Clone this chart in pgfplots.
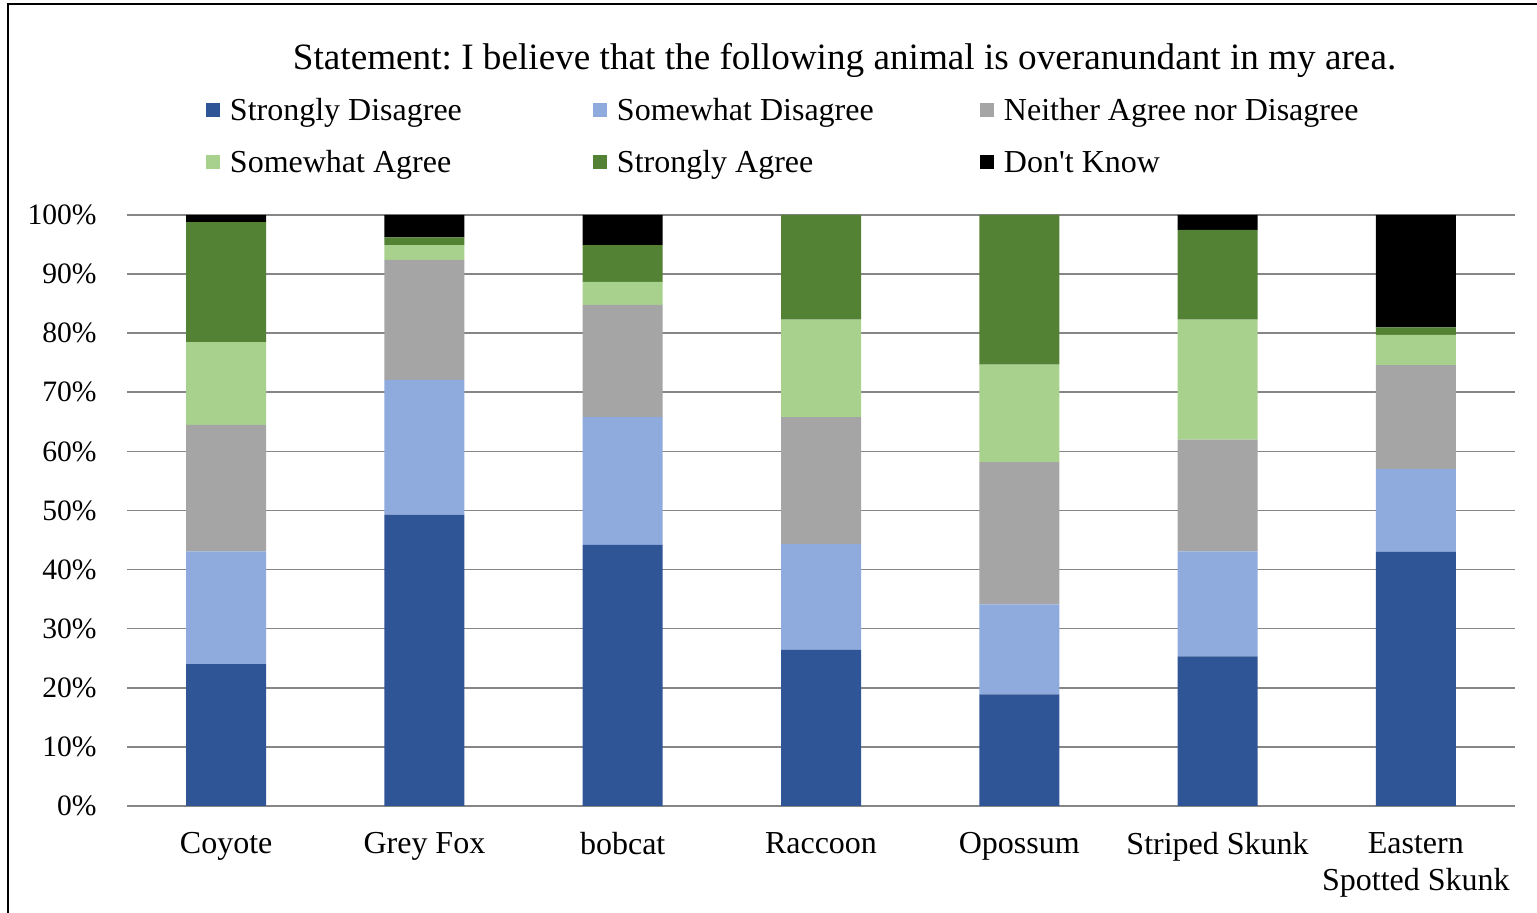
\documentclass[border=0pt]{standalone}
\usepackage{pgfplots}
\pgfplotsset{compat=1.18}
\usepackage{fontspec}
\setmainfont{Liberation Serif}
\frenchspacing

\definecolor{sdis}{HTML}{2F5597}
\definecolor{wdis}{HTML}{8FAADC}
\definecolor{neut}{HTML}{A5A5A5}
\definecolor{wagr}{HTML}{A9D18E}
\definecolor{sagr}{HTML}{548235}
\definecolor{gridc}{RGB}{134,134,134}

\begin{document}
\begin{tikzpicture}
\useasboundingbox (0,0) rectangle (768.5pt,456.5pt);
% chart frame
\draw[line width=1pt] (4.1pt,-1pt) -- (4.1pt,454.6pt) -- (770pt,454.6pt);
% title
\node[anchor=base, font=\fontsize{18.6}{22}\selectfont, inner sep=0pt]
  at (422.25pt,421.5pt) {Statement: I believe that the following animal is overanundant in my area.};
\begin{axis}[
  at={(63.5pt,53.5pt)}, anchor=south west,
  scale only axis, width=694pt, height=295.5pt,
  xmin=-0.5, xmax=6.5, ymin=0, ymax=100,
  ybar stacked, bar width=40pt,
  axis line style={draw=none},
  major tick length=0pt,
  xtick={0,...,6},
  xticklabels={Coyote,Grey Fox,bobcat,Raccoon,Opossum,Striped Skunk,{Eastern\\Spotted Skunk}},
  xticklabel style={font=\fontsize{16}{18.6}\selectfont, inner sep=0pt, yshift=-13pt, align=center},
  ytick={0,10,...,100},
  yticklabel={\pgfmathprintnumber{\tick}\%},
  yticklabel style={font=\fontsize{14.8}{17}\selectfont, inner sep=0pt, xshift=-15pt},
  /pgf/number format/assume math mode=true,
  ymajorgrids, grid style={gridc, line width=0.8pt},
  legend columns=3,
  legend cell align=left,
  legend style={at={(0.05692,1.2071)}, anchor=north west, draw=none, fill=none,
    inner sep=0pt, outer sep=0pt, column sep=0pt, row sep=8.6pt,
    font=\fontsize{16}{19}\selectfont,
    nodes={inner sep=0pt, text height=14pt, text depth=3.4pt},
    /tikz/every odd column/.append style={column sep=5pt}},
  legend image code/.code={\fill[#1] (0pt,-3.5pt) rectangle (7pt,3.5pt);},
]
\addplot[fill=sdis, draw=none] coordinates {(0,24.0) (1,49.3) (2,44.2) (3,26.4) (4,18.9) (5,25.3) (6,43.0)};
\addlegendentry{\makebox[181.5pt][l]{Strongly Disagree}}
\addplot[fill=wdis, draw=none] coordinates {(0,19.1) (1,22.8) (2,21.6) (3,17.9) (4,15.2) (5,17.8) (6,14.0)};
\addlegendentry{\makebox[181.5pt][l]{Somewhat Disagree}}
\addplot[fill=neut, draw=none] coordinates {(0,21.4) (1,20.3) (2,19.0) (3,21.5) (4,24.1) (5,18.9) (6,17.6)};
\addlegendentry{Neither Agree nor Disagree}
\addplot[fill=wagr, draw=none] coordinates {(0,14.0) (1,2.5) (2,3.9) (3,16.5) (4,16.5) (5,20.3) (6,5.1)};
\addlegendentry{\makebox[181.5pt][l]{Somewhat Agree}}
\addplot[fill=sagr, draw=none] coordinates {(0,20.3) (1,1.3) (2,6.2) (3,17.7) (4,25.3) (5,15.2) (6,1.3)};
\addlegendentry{\makebox[181.5pt][l]{Strongly Agree}}
\addplot[fill=black, draw=none] coordinates {(0,1.2) (1,3.8) (2,5.1) (3,0) (4,0) (5,2.5) (6,19.0)};
\addlegendentry{Don\textquotesingle t Know}
\end{axis}
\end{tikzpicture}
\end{document}
